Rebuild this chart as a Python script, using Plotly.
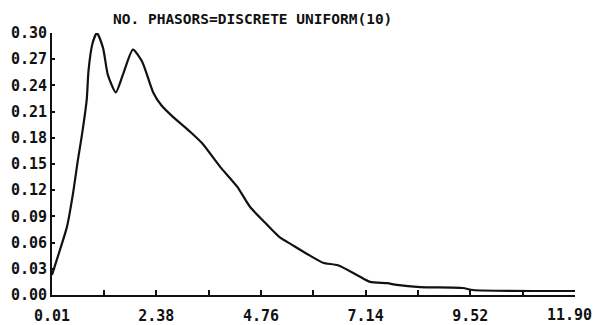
import plotly.graph_objects as go

title_text = "NO. PHASORS=DISCRETE UNIFORM(10)"

x_vals = [0.01, 0.19, 0.35, 0.49, 0.60, 0.69, 0.80, 0.84, 0.93, 1.03, 1.17, 1.28, 1.46, 1.62, 1.85,
          2.06, 2.31, 2.50, 2.76, 3.15, 3.42, 3.83, 4.22, 4.51, 4.85, 5.19, 5.45, 5.81,
          6.17, 6.51, 6.94, 7.24, 7.63, 7.85, 8.38, 9.35, 9.58, 11.90]
y_vals = [0.023, 0.0515, 0.078, 0.117, 0.155, 0.183, 0.224, 0.257, 0.288, 0.300, 0.283, 0.252, 0.232,
          0.252, 0.281, 0.267, 0.232, 0.217, 0.204, 0.187, 0.174, 0.147, 0.124, 0.101, 0.083,
          0.066, 0.058, 0.047, 0.037, 0.034, 0.023, 0.015, 0.0135, 0.0115, 0.009, 0.008,
          0.0057, 0.0046]

x_tick_vals = [0.01, 2.38, 4.76, 7.14, 9.52, 11.90]
x_tick_labels = ["0.01", "2.38", "4.76", "7.14", "9.52", "11.90"]
x_minor_vals = [1.195, 3.57, 5.95, 8.33, 10.71]
y_tick_vals = [0.00, 0.03, 0.06, 0.09, 0.12, 0.15, 0.18, 0.21, 0.24, 0.27, 0.30]
y_tick_labels = ["0.00", "0.03", "0.06", "0.09", "0.12", "0.15", "0.18", "0.21", "0.24", "0.27", "0.30"]

FONT = "DejaVu Sans Mono"

fig = go.Figure()
fig.add_trace(go.Scatter(x=x_vals, y=y_vals, mode="lines",
                         line=dict(color="#111111", width=2.2, shape="spline", smoothing=0.6),
                         cliponaxis=False, showlegend=False, hoverinfo="skip"))

# last x tick label placed as an annotation, right-aligned at the page edge
shown_ticktext = ["<b>" + t + "</b>" for t in x_tick_labels[:-1]] + [""]

fig.update_layout(
    width=595, height=325,
    margin=dict(l=52, r=20, t=33, b=30),
    paper_bgcolor="white", plot_bgcolor="white",
    font=dict(family=FONT, size=14, color="#111111"),
    annotations=[
        dict(text="<b>" + title_text + "</b>", x=0.384, y=1.055, xref="paper", yref="paper",
             xanchor="center", yanchor="middle", showarrow=False,
             font=dict(family=FONT, size=14.5, color="#111111")),
        dict(text="<b>" + x_tick_labels[-1] + "</b>", x=1.036, y=-0.078, xref="paper", yref="paper",
             xanchor="right", yanchor="middle", showarrow=False,
             font=dict(family=FONT, size=15, color="#111111")),
    ],
)
fig.update_xaxes(range=[0.01, 11.90], showgrid=False, zeroline=False, automargin=False,
                 showline=True, linecolor="#111111", linewidth=2,
                 tickmode="array", tickvals=x_tick_vals, ticktext=shown_ticktext,
                 ticks="inside", ticklen=5, tickwidth=1.5, tickcolor="#111111",
                 ticklabelstandoff=6,
                 minor=dict(tickvals=x_minor_vals, ticks="inside", ticklen=5, tickwidth=1.5, tickcolor="#111111"),
                 tickfont=dict(family=FONT, size=15, color="#111111"))
fig.update_yaxes(range=[0, 0.30], showgrid=False, zeroline=False, automargin=False,
                 showline=True, linecolor="#111111", linewidth=2,
                 tickmode="array", tickvals=y_tick_vals,
                 ticktext=["<b>" + t + "</b>" for t in y_tick_labels],
                 ticks="inside", ticklen=3, tickwidth=1.5, tickcolor="#111111",
                 tickfont=dict(family=FONT, size=15, color="#111111"))

fig.write_html("out.html")
